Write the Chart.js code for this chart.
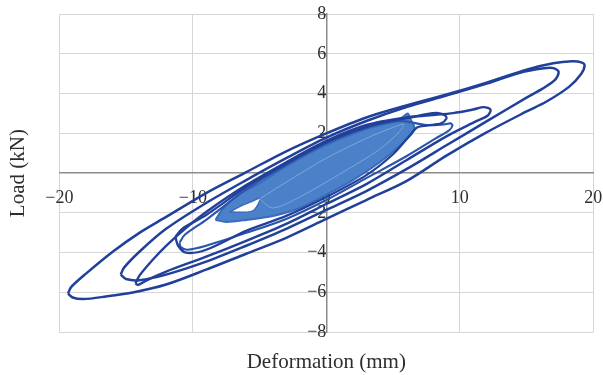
<!DOCTYPE html>
<html>
<head>
<meta charset="utf-8">
<script src="https://cdn.jsdelivr.net/npm/chart.js@4.4.1/dist/chart.umd.min.js"></script>
<style>
  html, body { margin: 0; padding: 0; background: #ffffff; }
  canvas { display: block; }
</style>
</head>
<body>
<canvas id="chart" width="603" height="375"></canvas>
<script>
// Tick positions on both axes
const xTickValues = [-20, -10, 0, 10, 20];
const yTickValues = [-8, -6, -4, -2, 0, 2, 4, 6, 8];

// Hysteresis cycles: deformation (mm) and load (kN), each traced
// from the negative peak along the loading branch and back.
const cycleA_def  = [-19.35, -19.1, -18.0, -16.0, -14.0, -12.0, -9.0, -6.0, -3.0, 0, 3, 6, 9, 12, 15, 17, 18.4, 19.1, 19.35,
                     19.1, 18.2, 16.5, 15, 12, 9, 6, 3, 0, -3, -6, -9, -12, -14.5, -16.5, -18.2, -19.0, -19.35];
const cycleA_load = [-6.05, -5.72, -5.05, -3.95, -3.0, -2.2, -1.0, 0.05, 1.1, 2.0, 2.8, 3.4, 3.95, 4.55, 5.2, 5.52, 5.62, 5.57, 5.42,
                     5.0, 4.35, 3.6, 3.1, 2.05, 0.88, -0.4, -1.35, -2.3, -3.25, -4.05, -4.85, -5.6, -6.0, -6.2, -6.33, -6.25, -6.05];

const cycleB_def  = [-15.4, -15.15, -14.0, -12.0, -9.0, -6.0, -3.0, 0, 3, 6, 9, 12, 14.5, 16.3, 17.0, 17.4,
                     17.15, 16.2, 15, 12, 9, 6, 3, 0, -3, -6, -9, -12, -14.0, -15.0, -15.4];
const cycleB_load = [-5.1, -4.75, -3.95, -2.8, -1.5, -0.35, 0.75, 1.78, 2.62, 3.32, 3.9, 4.5, 5.05, 5.27, 5.28, 5.1,
                     4.7, 4.25, 3.8, 2.6, 1.4, 0.2, -0.9, -1.85, -2.8, -3.65, -4.45, -5.1, -5.38, -5.32, -5.1];

const cycleC_def  = [-14.3, -14.0, -13.0, -12.0, -10.5, -9.0, -6.0, -3.0, 0, 3, 6, 8, 9.5, 11, 11.8, 12.3,
                     12.1, 11.2, 9, 6, 3, 0, -3, -6, -9, -12, -13.5, -14.1, -14.3];
const cycleC_load = [-5.55, -5.15, -4.35, -3.65, -2.75, -1.95, -0.6, 0.55, 1.62, 2.42, 2.8, 2.92, 3.02, 3.2, 3.32, 3.2,
                     2.9, 2.6, 1.85, 0.65, -0.55, -1.55, -2.55, -3.4, -4.2, -4.95, -5.4, -5.62, -5.55];

const cycleD_def  = [-11.3, -10.8, -9, -6, -3, 0, 3, 5, 6.5, 7.5, 8.4, 8.9, 9.0,
                     8.6, 7.6, 6.8, 6.2, 5, 3, 0, -3, -6, -9, -10.5, -11.1, -11.3];
const cycleD_load = [-3.2, -2.8, -2.1, -0.7, 0.48, 1.55, 2.33, 2.65, 2.82, 2.97, 3.02, 2.9, 2.75,
                     2.5, 2.4, 2.3, 1.85, 0.95, -0.1, -1.2, -2.15, -2.9, -3.85, -4.0, -3.65, -3.2];

const cycleE_def  = [-11.0, -10.6, -9, -6, -3, 0, 3, 5.5, 7.5, 8.8, 9.3, 9.45,
                     9.2, 8.2, 6, 3, 0, -3, -6, -9, -10.4, -10.9, -11.0];
const cycleE_load = [-3.5, -3.1, -2.35, -0.82, 0.42, 1.5, 2.28, 2.62, 2.42, 2.45, 2.5, 2.4,
                     2.15, 1.75, 0.85, -0.25, -1.35, -2.3, -3.0, -3.65, -3.85, -3.72, -3.5];

// Early small-amplitude cycles (dense band around the origin)
const earlyBand_def  = [-8.3, -7.7, -6.5, -5, -3, 0, 3, 5, 5.7, 6.1,
                        6.35, 6.6, 6.3, 4.5, 2, 0, -2, -4, -6, -7.5, -8.3];
const earlyBand_load = [-2.35, -1.75, -1.05, -0.5, 0.35, 1.42, 2.22, 2.58, 2.8, 3.0,
                        2.65, 2.3, 1.9, 0.8, -0.35, -1.08, -1.75, -2.15, -2.35, -2.45, -2.35];

const earlyInner_def  = [-5.0, -3, 0, 3, 5, 5.8, 5.5, 4, 1, -2, -4, -5.0];
const earlyInner_load = [-1.3, -0.45, 0.75, 1.75, 2.3, 2.45, 2.1, 1.2, -0.05, -1.2, -1.75, -1.3];

const earlyGap_def  = [-7.25, -6.3, -5.6, -4.95, -5.05, -5.5, -6.4, -7.25];
const earlyGap_load = [-1.95, -1.62, -1.43, -1.25, -1.5, -1.9, -1.97, -1.95];

const DARK = '#21409a';
const DARK2 = '#2b55aa';
const MID = '#3a6cbe';
const FILL = '#4a81c8';
const STREAK = '#7ea8dc';
const GRID = '#d6d6d6';
const AXIS = '#8c8c8c';
const TEXT = '#2e2e2e';

function points(def, load) {
  return def.map((d, i) => ({ x: d, y: load[i] }));
}

function cycle(def, load, color, width, order) {
  return {
    data: points(def, load),
    showLine: true,
    borderColor: color,
    borderWidth: width,
    pointRadius: 0,
    tension: 0.3,
    fill: false,
    order: order
  };
}

const minus = v => String(v).replace('-', '\u2212');
const tickFont = { family: 'Liberation Serif', size: 18 };
const titleFont = { family: 'Liberation Serif', size: 21 };
const gridColor = c => (c.tick && c.tick.value === 0) ? 'rgba(0,0,0,0)' : GRID;

new Chart(document.getElementById('chart'), {
  type: 'scatter',
  data: {
    datasets: [
      cycle(cycleA_def, cycleA_load, DARK, 2.5, 0),
      cycle(cycleB_def, cycleB_load, DARK, 2.5, 0),
      cycle(cycleC_def, cycleC_load, DARK, 2.4, 0),
      cycle(cycleD_def, cycleD_load, DARK, 2.3, 0),
      cycle(cycleE_def, cycleE_load, DARK2, 2.1, 0),
      cycle(earlyInner_def, earlyInner_load, STREAK, 1, 1),
      Object.assign(cycle(earlyGap_def, earlyGap_load, MID, 1.5, 2), { fill: 'shape', backgroundColor: '#ffffff' }),
      Object.assign(cycle(earlyBand_def, earlyBand_load, MID, 2, 3), { fill: 'shape', backgroundColor: FILL })
    ]
  },
  options: {
    responsive: false,
    animation: false,
    devicePixelRatio: 1,
    layout: { padding: { top: 14, right: 9.7, bottom: 0, left: 0 } },
    plugins: { legend: { display: false }, tooltip: { enabled: false } },
    scales: {
      x: {
        type: 'linear', axis: 'x', position: { y: 0 }, min: -20, max: 20,
        afterBuildTicks: s => { s.ticks = xTickValues.map(v => ({ value: v })); },
        grid: { color: gridColor, lineWidth: 1, drawTicks: false },
        border: { display: true, color: AXIS, width: 1.5 },
        ticks: { display: false }
      },
      y: {
        type: 'linear', axis: 'y', position: { x: 0 }, min: -8, max: 8,
        afterBuildTicks: s => { s.ticks = yTickValues.map(v => ({ value: v })); },
        grid: { color: gridColor, lineWidth: 1, drawTicks: true, tickLength: 6, tickColor: AXIS, tickWidth: 1.3 },
        border: { display: true, color: AXIS, width: 1.5 },
        ticks: { display: false }
      },
      xLabels: {
        type: 'linear', axis: 'x', position: { y: 0 }, min: -20, max: 20, z: 1,
        afterBuildTicks: s => { s.ticks = xTickValues.map(v => ({ value: v })); },
        grid: { display: true, drawOnChartArea: false, drawTicks: true, tickLength: 14.7, tickColor: 'rgba(0,0,0,0)', color: 'rgba(0,0,0,0)' },
        border: { display: false },
        ticks: { padding: 0, font: tickFont, color: TEXT, callback: minus, maxRotation: 0, autoSkip: false }
      },
      yLabels: {
        type: 'linear', axis: 'y', position: { x: 0 }, min: -8, max: 8, z: 1,
        afterBuildTicks: s => { s.ticks = yTickValues.map(v => ({ value: v })); },
        grid: { display: true, drawOnChartArea: false, drawTicks: true, tickLength: 15.5, tickColor: 'rgba(0,0,0,0)', color: 'rgba(0,0,0,0)' },
        border: { display: false },
        ticks: { padding: 0, font: tickFont, color: TEXT, callback: minus, autoSkip: false }
      },
      xTitle: {
        type: 'linear', axis: 'x', position: 'bottom',
        grid: { display: false, drawTicks: false },
        border: { display: false },
        ticks: { display: false },
        title: { display: true, text: 'Deformation (mm)', font: titleFont, color: TEXT, padding: { top: 17.5, bottom: 0 } }
      },
      yTitle: {
        type: 'linear', axis: 'y', position: 'left',
        grid: { display: false, drawTicks: false },
        border: { display: false },
        ticks: { display: false },
        title: { display: true, text: 'Load (kN)', font: titleFont, color: TEXT, padding: { top: 5.4, bottom: 28.7 } }
      }
    }
  }
});
</script>
</body>
</html>
